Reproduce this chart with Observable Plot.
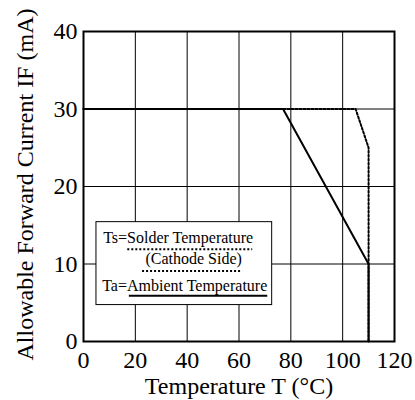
<!DOCTYPE html>
<html>
<head>
<meta charset="utf-8">
<script src="https://cdn.jsdelivr.net/npm/d3@7"></script>
<script src="https://cdn.jsdelivr.net/npm/@observablehq/plot@0.6"></script>
<style>
  html, body { margin: 0; padding: 0; background: #fff; }
  svg text { font-family: "Liberation Serif", "Times New Roman", serif; }
</style>
</head>
<body>
<div id="chart"></div>
<script>
// Data
const ambientT = [0, 77, 110, 110];
const ambientIF = [30, 30, 10, 0];
const solderT = [0, 105, 110, 110];
const solderIF = [30, 30, 25, 0];
const xTicks = [0, 20, 40, 60, 80, 100, 120];
const yTicks = [0, 10, 20, 30, 40];
const xLabel = "Temperature T (°C)";
const yLabel = "Allowable Forward Current IF (mA)";
const legendLines = ["Ts=Solder Temperature", "(Cathode Side)", "Ta=Ambient Temperature"];

const ambient = ambientT.map((t, i) => ({t, i: ambientIF[i]}));
const solder = solderT.map((t, i) => ({t, i: solderIF[i]}));

const FONT = "'Liberation Serif', 'Times New Roman', serif";

// Legend annotation layout (data units)
const legendBox = [{x1: 5, x2: 72.8, y1: 4.7, y2: 15.4}];
const legendText = [
  {x: 7.6, y: 12.65, s: legendLines[0]},
  {x: 23.9, y: 9.94, s: legendLines[1]},
  {x: 7.2, y: 6.49, s: legendLines[2]}
];
const dottedUnder = [
  {x1: 16.9, x2: 65.1, y: 11.9},
  {x1: 22.6, x2: 61.2, y: 9.1}
];
const solidUnder = [{x1: 17.5, x2: 70.9, y: 5.9}];

const chart = Plot.plot({
  width: 415,
  height: 400,
  marginLeft: 83,
  marginRight: 21,
  marginTop: 31,
  marginBottom: 59,
  style: {fontFamily: FONT, fontSize: "24px", color: "#000", background: "#fff"},
  x: {domain: [0, 120], label: null},
  y: {domain: [0, 40], label: null},
  marks: [
    Plot.gridX(xTicks, {stroke: "#000", strokeOpacity: 1, strokeWidth: 1}),
    Plot.gridY(yTicks, {stroke: "#000", strokeOpacity: 1, strokeWidth: 1}),
    Plot.axisX(xTicks, {tickSize: 0, tickPadding: 9, tickFormat: d => String(d), fontSize: 24, fontFamily: FONT, fill: "#000"}),
    Plot.axisY(yTicks, {tickSize: 0, tickPadding: 6, tickFormat: d => String(d), fontSize: 24, fontFamily: FONT, fill: "#000"}),
    Plot.text([xLabel], {frameAnchor: "bottom", lineAnchor: "bottom", dy: 52, fontSize: 24, fontFamily: FONT, fill: "#000"}),
    Plot.text([yLabel], {frameAnchor: "left", textAnchor: "middle", lineAnchor: "middle", rotate: -90, dx: -58, dy: -2, fontSize: 24, fontFamily: FONT, fill: "#000"}),
    Plot.rect(legendBox, {x1: "x1", x2: "x2", y1: "y1", y2: "y2", fill: "#fff", stroke: "#000", strokeWidth: 1}),
    Plot.text(legendText, {x: "x", y: "y", text: "s", textAnchor: "start", lineAnchor: "bottom", fontSize: 16, fontFamily: FONT, fill: "#000"}),
    Plot.link(dottedUnder, {x1: "x1", x2: "x2", y1: "y", y2: "y", stroke: "#000", strokeWidth: 2, strokeDasharray: "2,2"}),
    Plot.link(solidUnder, {x1: "x1", x2: "x2", y1: "y", y2: "y", stroke: "#000", strokeWidth: 2}),
    Plot.line(solder, {x: "t", y: "i", stroke: "#000", strokeWidth: 2, strokeDasharray: "2,2"}),
    Plot.line(ambient, {x: "t", y: "i", stroke: "#000", strokeWidth: 2}),
    Plot.frame({stroke: "#000", strokeWidth: 2})
  ]
});
document.getElementById("chart").appendChild(chart);
</script>
</body>
</html>
